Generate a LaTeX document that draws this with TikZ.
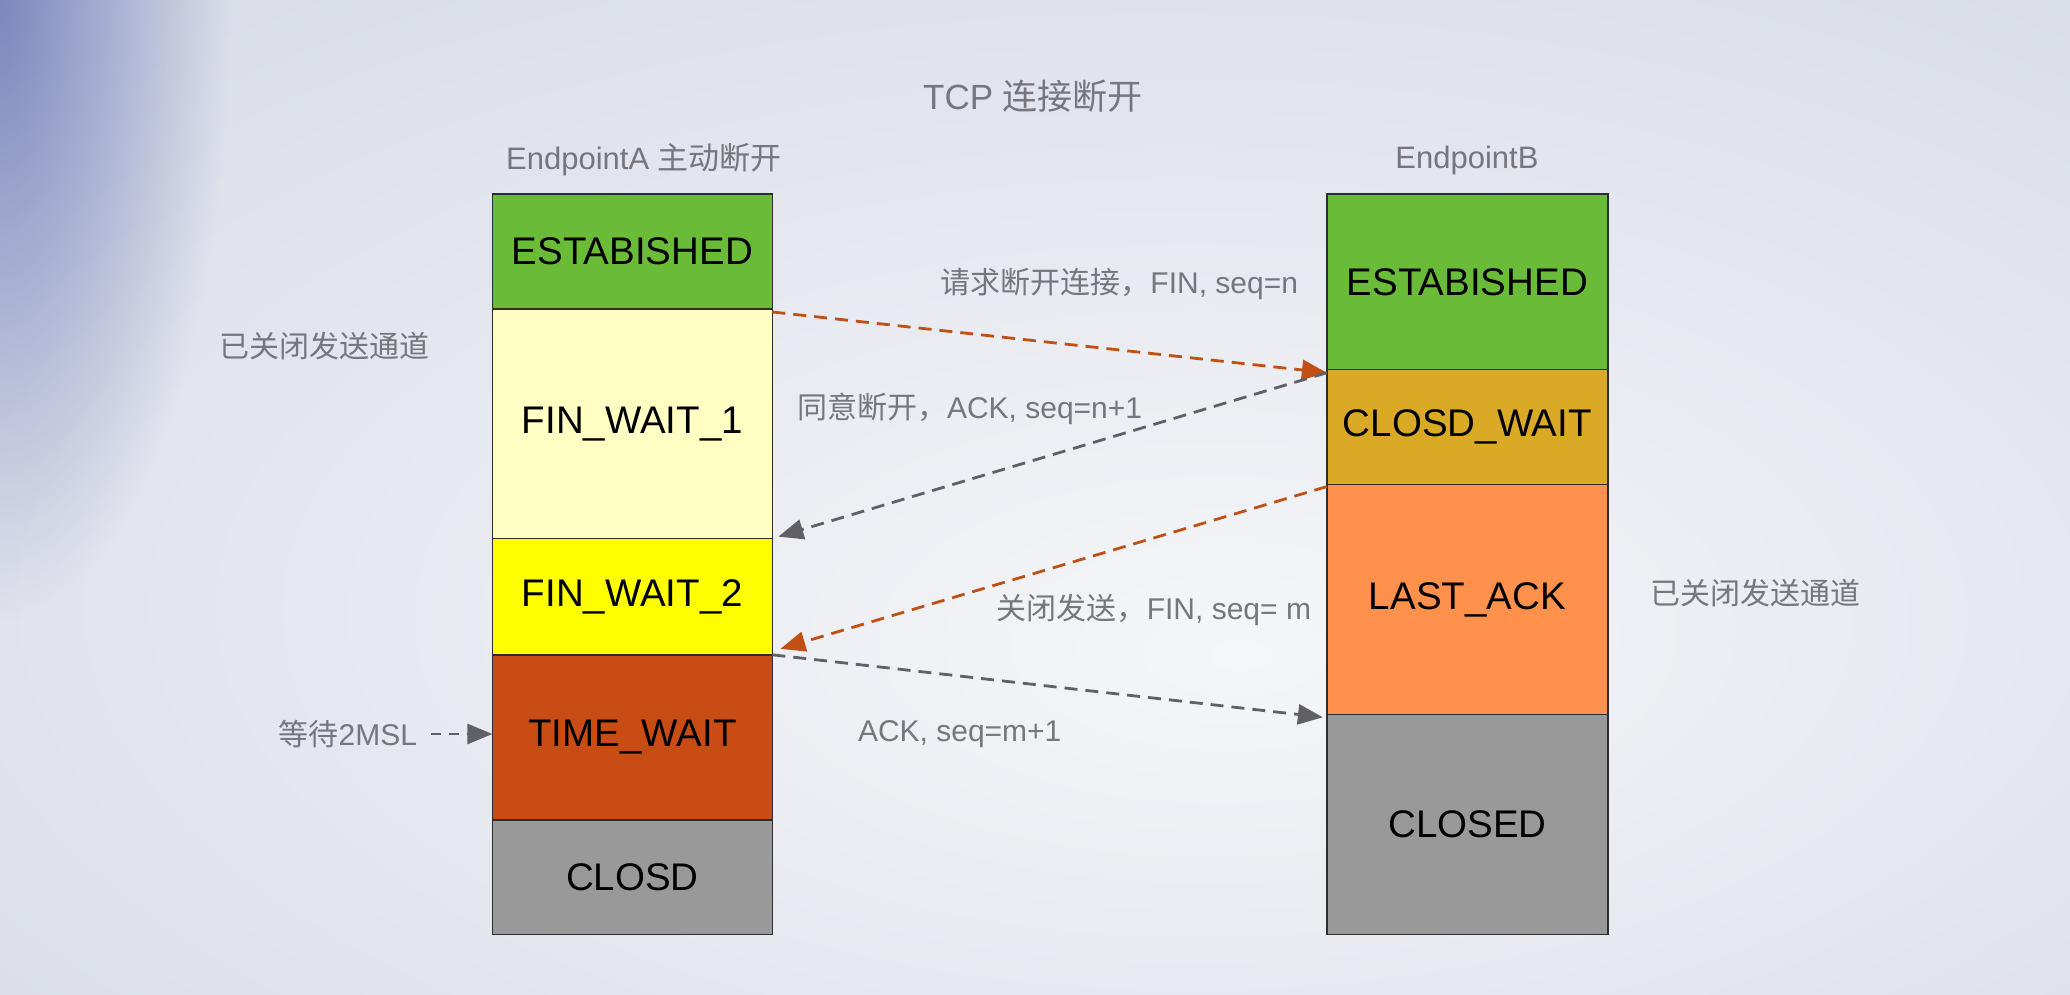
\documentclass[tikz,border=0pt]{standalone}
\usepackage{fontspec}
\setmainfont{Liberation Sans}
\newfontfamily\cjk{Noto Sans CJK SC}
\usetikzlibrary{arrows.meta,fadings,shadings}

\definecolor{bg0}{RGB}{245,246,249}
\definecolor{bg1}{RGB}{236,238,243}
\definecolor{bg2}{RGB}{214,218,230}
\definecolor{bg3}{RGB}{198,203,218}
\definecolor{vign}{RGB}{100,115,180}
\definecolor{boxline}{RGB}{45,45,45}
\definecolor{cEst}{RGB}{106,188,56}
\definecolor{cFwA}{RGB}{255,255,196}
\definecolor{cFwB}{RGB}{255,255,0}
\definecolor{cTw}{RGB}{200,76,20}
\definecolor{cCl}{RGB}{153,153,153}
\definecolor{cCw}{RGB}{218,170,38}
\definecolor{cLa}{RGB}{255,145,77}
\definecolor{lblgray}{RGB}{118,118,124}
\definecolor{arrOr}{RGB}{192,80,20}
\definecolor{arrGr}{RGB}{96,96,102}

\pgfdeclareradialshading{bgshade}{\pgfpoint{5bp}{-8bp}}{color(0bp)=(bg0); color(12bp)=(bg1); color(42bp)=(bg2); color(75bp)=(bg3)}

\tikzfading[name=vfade, inner color=transparent!0, outer color=transparent!100]

\begin{document}
\begin{tikzpicture}[x=1pt,y=-1pt,
  stbox/.style={draw=boxline, line width=1.4pt, inner sep=0pt, outer sep=0pt, font=\fontsize{38.5}{44}\selectfont, text=black},
  colA/.style={stbox, minimum width=280pt},
  colB/.style={stbox, minimum width=281pt},
  lbl/.style={inner sep=0pt, outer sep=0pt, text=lblgray, font=\fontsize{30}{36}\selectfont},
  msg/.style={dash pattern=on 13pt off 8pt, line width=2.8pt, -{Triangle[length=25pt,width=20pt]}},
]
\useasboundingbox (0,0) rectangle (2070,995);
\shade[shading=bgshade] (0,0) rectangle (2070,995);
\begin{scope}
\clip (0,0) rectangle (2070,995);
\fill[vign, opacity=0.8, path fading=vfade, fit fading=true] (-230,-620) rectangle (230,620);
\end{scope}

% titles
\node[lbl, font=\fontsize{35}{40}\selectfont] (title) at (1033,96) {TCP {\cjk 连接断开}};
\node[lbl, font=\fontsize{31}{36}\selectfont] (hA) at (644,160) {EndpointA {\cjk 主动断开}};
\node[lbl, font=\fontsize{31}{36}\selectfont] (hB) at (1467,160) {EndpointB};

% Endpoint A column
\node[colA, fill=cEst, minimum height=115pt]   (aEst) at (632.4,251.5) {ESTABISHED};
\node[colA, fill=cFwA, minimum height=229.6pt] (aFw1) at (632.4,423.8) {FIN\_WAIT\_1};
\node[colA, fill=cFwB, minimum height=116.2pt] (aFw2) at (632.4,596.7) {FIN\_WAIT\_2};
\node[colA, fill=cTw,  minimum height=165.2pt] (aTw)  at (632.4,737.4) {TIME\_WAIT};
\node[colA, fill=cCl,  minimum height=114.7pt] (aCl)  at (632.4,877.4) {CLOSD};

% Endpoint B column
\node[colB, fill=cEst, minimum height=175.7pt] (bEst) at (1467.4,281.9) {ESTABISHED};
\node[colB, fill=cCw,  minimum height=114.8pt] (bCw)  at (1467.4,427.1) {CLOSD\_WAIT};
\node[colB, fill=cLa,  minimum height=229.7pt] (bLa)  at (1467.4,599.4) {LAST\_ACK};
\node[colB, fill=cCl,  minimum height=220.5pt] (bCl)  at (1467.4,824.5) {CLOSED};

% side labels
\node[lbl] (sideA) at (324,346) {\cjk 已关闭发送通道};
\node[lbl] (sideB) at (1755,593) {\cjk 已关闭发送通道};
\node[lbl, anchor=east] (wait) at (417,734) {{\cjk 等待}2MSL};

% message labels
\node[lbl, anchor=east] (m1) at (1298,284) {{\cjk 请求断开连接，}FIN, seq=n};
\node[lbl, anchor=west] (m2) at (797,409) {{\cjk 同意断开，}ACK, seq=n+1};
\node[lbl, anchor=east] (m3) at (1311,610) {{\cjk 关闭发送，}FIN, seq= m};
\node[lbl, anchor=west] (m4) at (858,734) {ACK, seq=m+1};

% arrows
\draw[msg, arrOr] ([yshift=-3pt]aFw1.north east) -- ([yshift=-3pt]bCw.north west);
\draw[msg, arrGr] ([yshift=-3pt]bCw.north west) -- ([xshift=6pt,yshift=2pt]aFw1.south east);
\draw[msg, arrOr] ([yshift=-2pt]bLa.north west) -- ([xshift=8pt,yshift=6pt]aFw2.south east);
\draw[msg, arrGr] (aTw.north east) -- ([xshift=-4pt,yshift=-3pt]bCl.north west);
\draw[msg, arrGr, dash pattern=on 10pt off 8pt] ([xshift=14pt]wait.east) -- (aTw.west |- wait.east);
\end{tikzpicture}
\end{document}
